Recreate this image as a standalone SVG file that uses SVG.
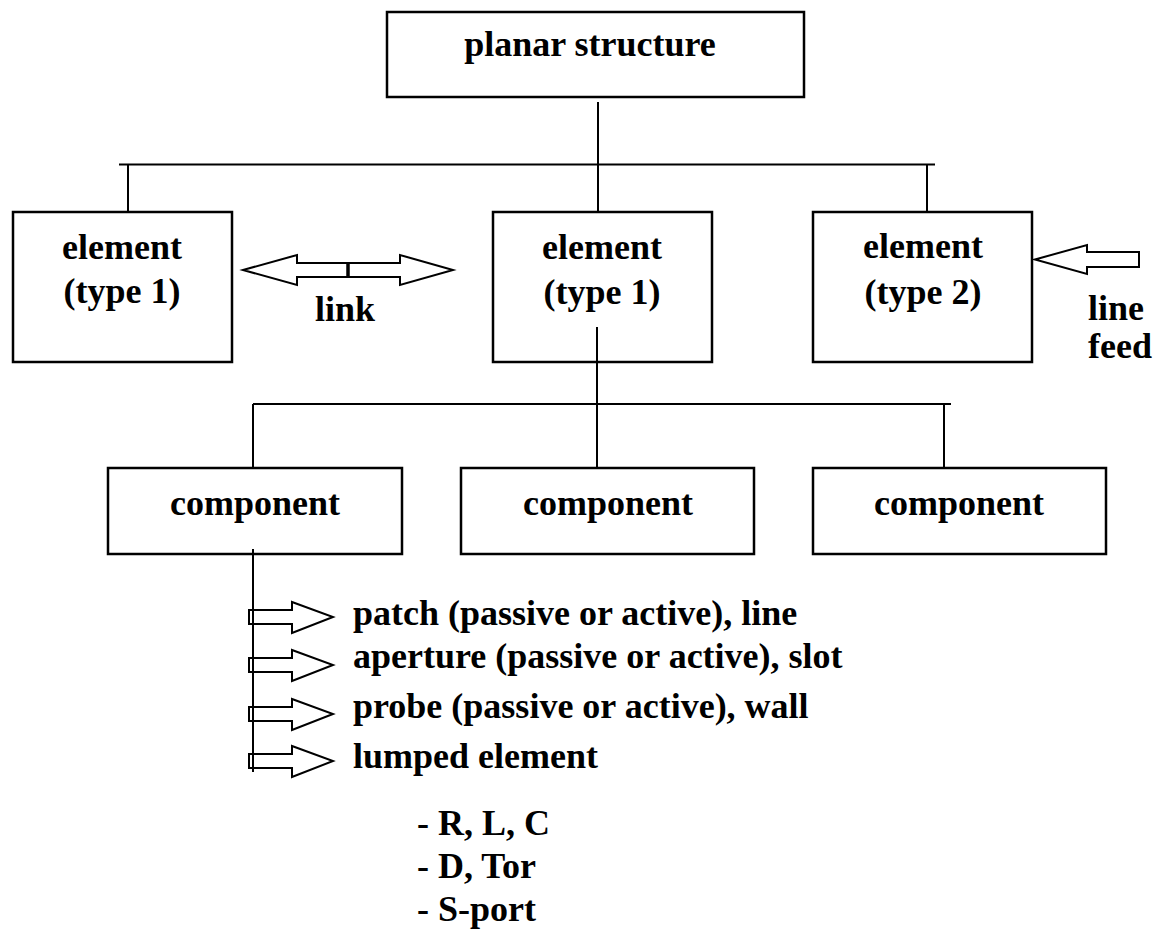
<svg xmlns="http://www.w3.org/2000/svg" width="1157" height="929" viewBox="0 0 1157 929">
<style>
.box{fill:#fff;stroke:#000;stroke-width:2.5}
.ln{stroke:#000;stroke-width:2;fill:none}
.arr{fill:#fff;stroke:#000;stroke-width:2;stroke-linejoin:miter}
.t{font-family:'Liberation Serif','Times New Roman',Times,'DejaVu Serif',serif;font-weight:bold;font-size:36px;fill:#000}
.c{text-anchor:middle}
</style>
<rect width="1157" height="929" fill="#fff"/>
<g id="connectors">
<line class="ln" x1="598" y1="102" x2="598" y2="212"/>
<line class="ln" x1="119" y1="164.5" x2="935" y2="164.5"/>
<line class="ln" x1="128" y1="164" x2="128" y2="212"/>
<line class="ln" x1="927" y1="164" x2="927" y2="212"/>
<line class="ln" x1="597" y1="327" x2="597" y2="468"/>
<line class="ln" x1="253" y1="404" x2="951" y2="404"/>
<line class="ln" x1="253" y1="404" x2="253" y2="468"/>
<line class="ln" x1="944" y1="404" x2="944" y2="468"/>
<line class="ln" x1="253" y1="549" x2="253" y2="772"/>
</g>
<g id="top" class="t" font-family="Liberation Serif, Times New Roman, DejaVu Serif, serif">
<rect class="box" x="387" y="12" width="417" height="85"/>
<text class="c" x="590" y="56">planar structure</text>
</g>
<g id="el1" class="t" font-family="Liberation Serif, Times New Roman, DejaVu Serif, serif">
<rect class="box" x="13" y="212" width="219" height="150"/>
<text class="c" x="122" y="259">element</text>
<text class="c" x="122" y="303">(type 1)</text>
</g>
<g id="el2" class="t" font-family="Liberation Serif, Times New Roman, DejaVu Serif, serif">
<rect class="box" x="493" y="212" width="219" height="150"/>
<text class="c" x="602" y="259">element</text>
<text class="c" x="602" y="304">(type 1)</text>
<line class="ln" x1="597" y1="327" x2="597" y2="362"/>
</g>
<g id="el3" class="t" font-family="Liberation Serif, Times New Roman, DejaVu Serif, serif">
<rect class="box" x="813" y="212" width="219" height="150"/>
<text class="c" x="923" y="258">element</text>
<text class="c" x="923" y="304">(type 2)</text>
</g>
<g id="link" class="t" font-family="Liberation Serif, Times New Roman, DejaVu Serif, serif">
<polygon class="arr" points="243,270 297,255 297,263 400,263 400,255 453,270 400,285 400,277 297,277 297,285"/>
<line x1="348" y1="263" x2="348" y2="277" stroke="#000" stroke-width="3.5"/>
<text class="c" x="345" y="321">link</text>
</g>
<g id="feed" class="t" font-family="Liberation Serif, Times New Roman, DejaVu Serif, serif">
<polygon class="arr" points="1035,259.5 1087,245 1087,252 1139,252 1139,267 1087,267 1087,274"/>
<text x="1088" y="320">line</text>
<text x="1088" y="358">feed</text>
</g>
<g id="comp1" class="t" font-family="Liberation Serif, Times New Roman, DejaVu Serif, serif">
<rect class="box" x="108" y="468" width="294" height="86"/>
<text class="c" x="255" y="515">component</text>
<line class="ln" x1="253" y1="549" x2="253" y2="556"/>
</g>
<g id="comp2" class="t" font-family="Liberation Serif, Times New Roman, DejaVu Serif, serif">
<rect class="box" x="461" y="468" width="293" height="86"/>
<text class="c" x="608" y="515">component</text>
</g>
<g id="comp3" class="t" font-family="Liberation Serif, Times New Roman, DejaVu Serif, serif">
<rect class="box" x="813" y="468" width="293" height="86"/>
<text class="c" x="959" y="515">component</text>
</g>
<g id="list" class="t" font-family="Liberation Serif, Times New Roman, DejaVu Serif, serif">
<polygon class="arr" points="249,610 292,610 292,602 333,617 292,633 292,624 249,624"/>
<polygon class="arr" points="249,658 292,658 292,650 333,665 292,681 292,672 249,672"/>
<polygon class="arr" points="249,707 292,707 292,699 333,714 292,730 292,721 249,721"/>
<polygon class="arr" points="249,754 292,754 292,746 333,761 292,777 292,768 249,768"/>
<line class="ln" x1="253" y1="600" x2="253" y2="772"/>
<text x="353" y="625">patch (passive or active), line</text>
<text x="353" y="668">aperture (passive or active), slot</text>
<text x="353" y="718">probe (passive or active), wall</text>
<text x="353" y="768">lumped element</text>
<text x="417" y="835">- R, L, C</text>
<text x="417" y="878">- D, Tor</text>
<text x="417" y="921">- S-port</text>
</g>
</svg>
